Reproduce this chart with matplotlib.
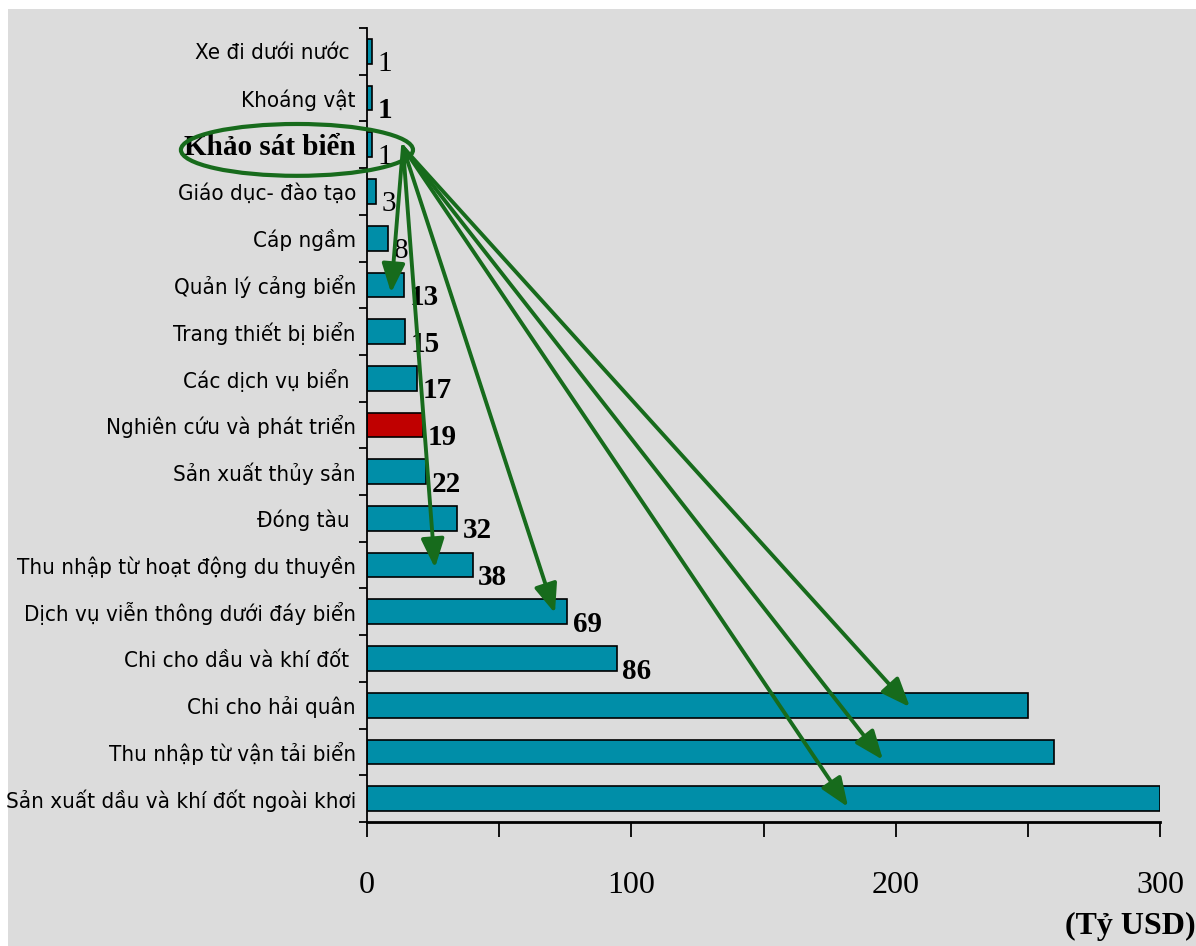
import matplotlib
matplotlib.use("Agg")
import matplotlib.pyplot as plt
from matplotlib.patches import Ellipse, FancyArrowPatch, Rectangle
from matplotlib.ticker import FixedLocator, NullFormatter

# --- DATA ---
categories = [
    "Xe đi dưới nước ", "Khoáng vật", "Khảo sát biển", "Giáo dục- đào tạo",
    "Cáp ngầm", "Quản lý cảng biển", "Trang thiết bị biển", "Các dịch vụ biển ",
    "Nghiên cứu và phát triển", "Sản xuất thủy sản", "Đóng tàu ",
    "Thu nhập từ hoạt động du thuyền", "Dịch vụ viễn thông dưới đáy biển",
    "Chi cho dầu và khí đốt ", "Chi cho hải quân", "Thu nhập từ vận tải biển",
    "Sản xuất dầu và khí đốt ngoài khơi",
]
# bar lengths as drawn (Tỷ USD)
bar_values = [1.9, 1.9, 1.9, 3.4, 8, 14, 14.4, 19, 21, 22.4, 34, 40, 75.7, 94.5, 250, 260, 300]
# printed value labels ("" = none)
value_labels = ["1", "1", "1", "3", "8", "13", "15", "17", "19", "22", "32", "38", "69", "86", "", "", ""]
x_tick_labels = ["0", "100", "200", "300"]

# annotation: ellipse around "Khảo sát biển" and arrows fanning out (data coords)
arrow_source = (13.6, 2.05)
arrow_targets = [(9.1, 5.17), (25.7, 11.06), (71.1, 12.03),
                 (205.4, 14.04), (195.2, 15.17), (182.0, 16.18)]

# --- STYLE ---
TEAL = "#008ea8"
RED = "#c00000"
GREEN = "#176b1c"
BG = "#dcdcdc"
HIGHLIGHT = "Nghiên cứu và phát triển"
BOLD_VALUES = {1, 5, 6, 7, 8, 9, 10, 11, 12, 13}
SANS = ["DejaVu Sans"]
SERIF = ["Liberation Serif", "DejaVu Serif"]

W, H = 1196, 946
fig = plt.figure(figsize=(W / 100, H / 100), dpi=100, facecolor="white")
fig.add_artist(Rectangle((8 / W, 0), 1 - 8 / W, 1 - 9 / H, transform=fig.transFigure,
                         facecolor=BG, edgecolor="none", zorder=-10))

ax = fig.add_axes([367 / W, 1 - 822 / H, 793 / W, 794 / H])
ax.set_facecolor(BG)

n = len(categories)
ypos = list(range(n))
colors = [RED if c == HIGHLIGHT else TEAL for c in categories]
ax.barh(ypos, bar_values, height=0.53, color=colors, edgecolor="black", linewidth=1.2, zorder=2)

ax.set_xlim(0, 300)
ax.set_ylim(n - 0.5, -0.5)

# value labels
for i, (v, lab) in enumerate(zip(bar_values, value_labels)):
    if not lab:
        continue
    ax.annotate(lab, (v, i), xytext=(4, -9), textcoords="offset points",
                ha="left", va="center", fontsize=21, family=SERIF,
                fontweight="bold" if i in BOLD_VALUES else "normal", zorder=3)

# y axis: ticks at boundaries, labels at centres
ax.yaxis.set_major_locator(FixedLocator([i - 0.5 for i in range(n + 1)]))
ax.yaxis.set_major_formatter(NullFormatter())
ax.yaxis.set_minor_locator(FixedLocator(ypos))
ax.set_yticklabels(categories, minor=True)
ax.tick_params(axis="y", which="major", direction="out", length=6, width=1.3)
ax.tick_params(axis="y", which="minor", length=0, pad=8)
for i, t in enumerate(ax.get_yticklabels(minor=True)):
    if categories[i] == "Khảo sát biển":
        t.set_fontfamily(SERIF)
        t.set_fontweight("bold")
        t.set_fontsize(21)
    else:
        t.set_fontfamily(SANS)
        t.set_fontstretch("condensed")
        t.set_fontsize(16)

# x axis: ticks every 50, labels every 100
ax.xaxis.set_major_locator(FixedLocator([0, 100, 200, 300]))
ax.set_xticklabels(x_tick_labels)
ax.xaxis.set_minor_locator(FixedLocator([50, 150, 250]))
ax.tick_params(axis="x", which="both", direction="out", length=11, width=1.3)
ax.tick_params(axis="x", which="major", pad=24)
for t in ax.get_xticklabels():
    t.set_fontfamily(SERIF)
    t.set_fontsize(23)

for s in ("top", "right"):
    ax.spines[s].set_visible(False)
ax.spines["left"].set_linewidth(1.3)
ax.spines["bottom"].set_linewidth(2)

fig.text(1.0, 1 - 926 / H, "(Tỷ USD)", ha="right", va="center",
         fontsize=23, fontweight="bold", family=SERIF)

# ellipse + arrows
ax.add_patch(Ellipse((-26.5, 2.11), 87.8, 1.11, facecolor="none", edgecolor=GREEN,
                     linewidth=3, clip_on=False, zorder=4))
for tx, ty in arrow_targets:
    ax.add_patch(FancyArrowPatch(arrow_source, (tx, ty),
                                 arrowstyle="-|>,head_length=0.55,head_width=0.22",
                                 mutation_scale=32, color=GREEN, linewidth=2.8,
                                 shrinkA=0, shrinkB=0, clip_on=False, zorder=5))

fig.savefig("out.png", dpi=100, facecolor=fig.get_facecolor())
